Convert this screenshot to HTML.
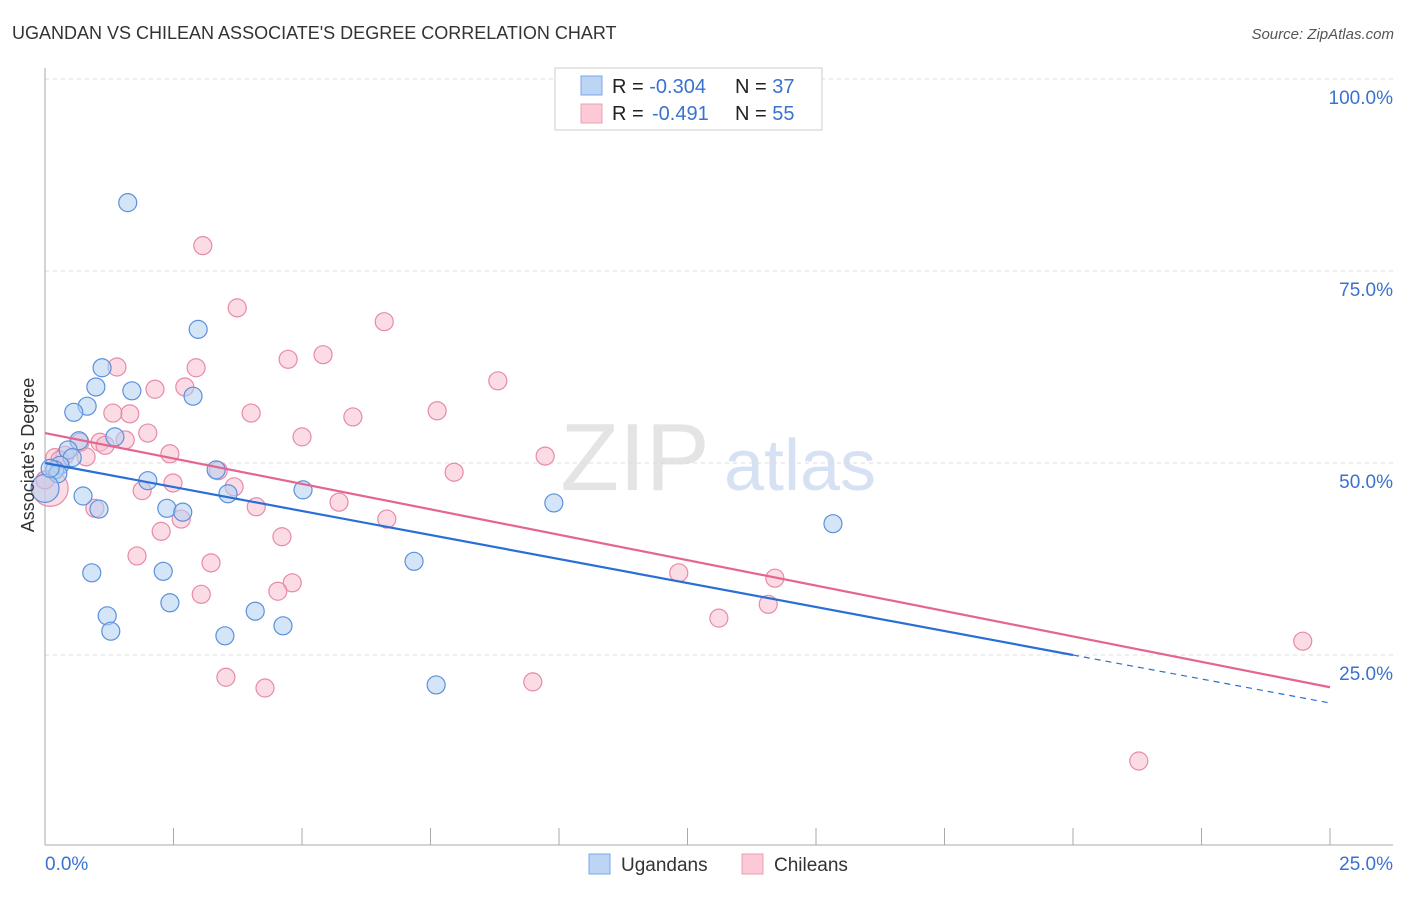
<!DOCTYPE html>
<html><head><meta charset="utf-8"><style>
body{margin:0;background:#fff;font-family:"Liberation Sans",sans-serif}
svg text{font-family:"Liberation Sans",sans-serif}
</style></head><body>
<svg id="chart" width="1406" height="892">
<text x="12" y="39" font-size="18" fill="#333">UGANDAN VS CHILEAN ASSOCIATE'S DEGREE CORRELATION CHART</text>
<text x="1394" y="39" font-size="15" fill="#555" font-style="italic" text-anchor="end">Source: ZipAtlas.com</text>
<text x="635" y="490" font-size="96" fill="#e4e4e4" font-family="Liberation Serif" text-anchor="middle">ZIP</text>
<text x="800" y="490" font-size="72" fill="#d6e2f3" text-anchor="middle">atlas</text>
<g id="grid"></g>
<g id="axes"></g>
<g id="pts"></g>
<g id="trend"></g>
<text transform="translate(34,455) rotate(-90)" font-size="18" fill="#333" text-anchor="middle">Associate's Degree</text>
<g>
<rect x="555" y="68" width="267" height="62" fill="#fff" stroke="#ccc"/>
<rect x="581" y="76" width="21" height="19" fill="#bcd5f5" stroke="#7aa7e6"/>
<rect x="581" y="104" width="21" height="19" fill="#fcc9d7" stroke="#eea0b6"/>
<text x="612" y="93" font-size="20" fill="#222">R = <tspan fill="#3a72d0">-0.304</tspan><tspan x="735">N = </tspan><tspan fill="#3a72d0">37</tspan></text>
<text x="612" y="120" font-size="20" fill="#222">R = <tspan fill="#3a72d0" x="652">-0.491</tspan><tspan x="735">N = </tspan><tspan fill="#3a72d0">55</tspan></text>
</g>
<g>
<rect x="589" y="854" width="21" height="20" fill="#bcd5f5" stroke="#7aa7e6"/>
<text x="621" y="871" font-size="19" fill="#333">Ugandans</text>
<rect x="742" y="854" width="21" height="20" fill="#fcc9d7" stroke="#eea0b6"/>
<text x="774" y="871" font-size="19" fill="#333">Chileans</text>
</g>
</svg>
<script>
const yTicks=[25,50,75,100];
const yTickLabels=["25.0%","50.0%","75.0%","100.0%"];
const xTickLabels=["0.0%","25.0%"];
const blueX=[1.61,2.98,1.11,0.99,1.69,2.88,0.82,0.56,1.36,0.66,0.45,0.53,0.29,0.19,0.25,0,2.00,3.33,3.56,5.02,0.74,2.37,2.68,1.05,9.90,15.33,7.18,0.91,2.30,1.21,1.28,2.43,4.09,4.63,3.50,7.61,0.10];
const blueY=[83.9,67.4,62.4,59.9,59.4,58.7,57.4,56.6,53.4,52.9,51.7,50.7,49.7,49.1,48.6,46.7,47.7,49.1,46.0,46.5,45.7,44.1,43.6,44.0,44.8,42.1,37.2,35.7,35.9,30.1,28.1,31.8,30.7,28.8,27.5,21.1,49.3];
const pinkX=[3.07,3.74,6.60,5.41,4.73,2.94,1.40,2.72,2.14,8.81,4.01,1.65,1.32,5.99,7.63,2.00,5.00,1.56,1.07,1.17,2.43,0.80,9.73,7.96,3.37,2.49,3.68,1.89,5.72,4.11,0.97,2.65,6.65,2.26,4.61,1.79,3.23,4.81,4.53,3.04,12.33,14.20,14.07,13.11,24.47,3.52,4.28,9.49,21.28,0.10,0.19,0.39,0.68,0,0.29];
const pinkY=[78.3,70.2,68.4,64.1,63.5,62.4,62.5,59.9,59.6,60.7,56.5,56.4,56.5,56.0,56.8,53.9,53.4,53.0,52.7,52.3,51.2,50.8,50.9,48.8,49.0,47.4,46.9,46.4,44.9,44.3,44.1,42.7,42.7,41.1,40.4,37.9,37.0,34.4,33.3,32.9,35.7,35.0,31.6,29.8,26.8,22.1,20.7,21.5,11.2,46.7,50.7,51.0,52.7,47.8,50.4];
const blueTrend=[50.0,18.75];
const pinkTrend=[53.9,20.8];
const X=v=>45+v/25*1285, Y=v=>847-v*7.68;
const NS="http://www.w3.org/2000/svg";
function mk(tag,attrs,parent){const e=document.createElementNS(NS,tag);for(const k in attrs)e.setAttribute(k,attrs[k]);document.getElementById(parent).appendChild(e);return e;}
yTicks.forEach((t,i)=>{
 const g=mk('line',{x1:45,x2:1393,y1:Y(t),y2:Y(t),stroke:'#dcdcdc','stroke-dasharray':'4,4'},'grid');
 
 
 const l=mk('text',{x:1393,y:Y(t)+25,'font-size':19,fill:'#3a72d0','text-anchor':'end'},'axes');
 l.textContent=yTickLabels[i];
 
 
});
const ya=mk('line',{x1:45,x2:45,y1:68,y2:845,stroke:'#aaa'},'axes');


const xa=mk('line',{x1:45,x2:1393,y1:845,y2:845,stroke:'#aaa'},'axes');


for(let i=1;i<=10;i++){
 const t=mk('line',{x1:X(i*2.5),x2:X(i*2.5),y1:828,y2:845,stroke:'#aaa'},'axes');
 
 
}
[[0,'start',45],[25,'end',1393]].forEach((d,i)=>{
 const l=mk('text',{x:d[2],y:870,'font-size':19,fill:'#3a72d0','text-anchor':d[1]},'axes');
 l.textContent=xTickLabels[i];
 
 
});
function pts(xs,ys,fill,stroke,name,bigIdx,bigR){
 xs.forEach((x,i)=>{
  const c=mk('circle',{cx:X(x),cy:Y(ys[i]),r:i===bigIdx?bigR:9,fill:fill,'fill-opacity':0.55,stroke:stroke,'stroke-width':1.2},'pts');
  
  
 });
}
pts(pinkX,pinkY,'#f8bfd0','#e88aa8','chilean-point',49,18);
pts(blueX,blueY,'#b3cff3','#5c90dc','ugandan-point',15,14);
const bx=[0,25], split=20;
const bAt=v=>blueTrend[0]+(blueTrend[1]-blueTrend[0])*v/25;
const b1=mk('line',{x1:X(0),y1:Y(bAt(0)),x2:X(split),y2:Y(bAt(split)),stroke:'#2a6fd6','stroke-width':2.2},'trend');


const b2=mk('line',{x1:X(split),y1:Y(bAt(split)),x2:X(25),y2:Y(bAt(25)),stroke:'#2a6fd6','stroke-width':1.2,'stroke-dasharray':'6,5'},'trend');


const p1=mk('line',{x1:X(0),y1:Y(pinkTrend[0]),x2:X(25),y2:Y(pinkTrend[1]),stroke:'#e5658f','stroke-width':2.2},'trend');


</script>
</body></html>
